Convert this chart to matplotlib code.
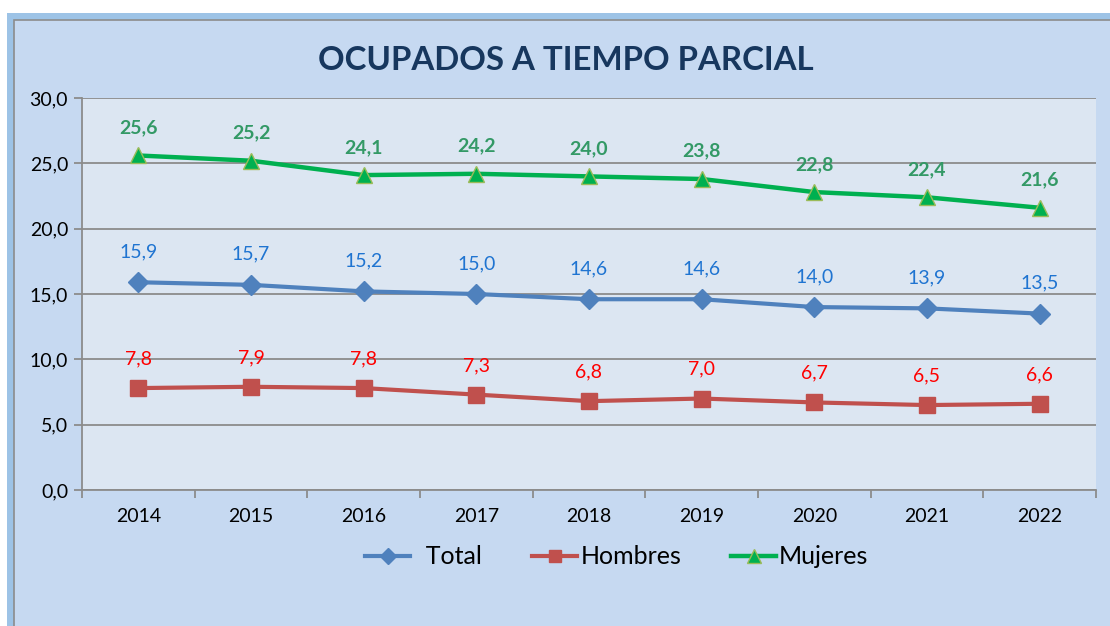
import matplotlib.pyplot as plt
from matplotlib.patches import Rectangle
from matplotlib.ticker import FixedLocator, FuncFormatter

years = ["2014", "2015", "2016", "2017", "2018", "2019", "2020", "2021", "2022"]
total = [15.9, 15.7, 15.2, 15.0, 14.6, 14.6, 14.0, 13.9, 13.5]
hombres = [7.8, 7.9, 7.8, 7.3, 6.8, 7.0, 6.7, 6.5, 6.6]
mujeres = [25.6, 25.2, 24.1, 24.2, 24.0, 23.8, 22.8, 22.4, 21.6]

plt.rcParams["font.family"] = ["Lato", "DejaVu Sans"]

fig = plt.figure(figsize=(11.1, 6.26), dpi=100)
fig.patch.set_facecolor("white")

# outer chart frame
fig.patches.append(Rectangle((7 / 1110, 0), 1.0, 1 - 13 / 626,
                             transform=fig.transFigure, facecolor="#9DC3E6",
                             edgecolor="none", zorder=-10))
fig.patches.append(Rectangle((14 / 1110, -0.01), 1.0, 1 - 20 / 626 + 0.01,
                             transform=fig.transFigure, facecolor="#C6D9F1",
                             edgecolor="#8C8C8C", linewidth=1.2, zorder=-9))

ax = fig.add_axes([82 / 1110, 1 - 490 / 626, 1014 / 1110, 392 / 626])
ax.set_zorder(5)
ax.set_facecolor("#DCE6F2")

x = list(range(len(years)))

ax.plot(x, total, color="#4F81BD", linewidth=3, marker="D", markersize=10,
        markerfacecolor="#4F81BD", markeredgecolor="#4F81BD", label="  Total",
        zorder=3)
ax.plot(x, hombres, color="#C0504D", linewidth=3, marker="s", markersize=11,
        markerfacecolor="#C0504D", markeredgecolor="#C0504D", label="Hombres",
        zorder=3)
ax.plot(x, mujeres, color="#00B050", linewidth=3.2, marker="^", markersize=12,
        markerfacecolor="#00B050", markeredgecolor="#9BBB59", label="Mujeres",
        zorder=3)

def fmt(v):
    return f"{v:.1f}".replace(".", ",")

for xi, v in zip(x, total):
    ax.annotate(fmt(v), (xi, v), xytext=(0, 22), textcoords="offset points",
                ha="center", va="center", fontsize=14, color="#1F74D1")
for xi, v in zip(x, hombres):
    ax.annotate(fmt(v), (xi, v), xytext=(0, 21), textcoords="offset points",
                ha="center", va="center", fontsize=14, color="#FF0000")
for xi, v in zip(x, mujeres):
    ax.annotate(fmt(v), (xi, v), xytext=(0, 20), textcoords="offset points",
                ha="center", va="center", fontsize=14, fontweight="bold",
                color="#339966")

ax.set_xlim(-0.5, len(years) - 0.5)
ax.set_ylim(0, 30)
ax.set_yticks([0, 5, 10, 15, 20, 25, 30])
ax.yaxis.set_major_formatter(FuncFormatter(lambda v, p: fmt(v)))
ax.yaxis.grid(True, color="#8C8C8C", linewidth=1.3)
ax.set_axisbelow(True)

ax.set_xticks(x)
ax.set_xticklabels(years)
ax.xaxis.set_minor_locator(FixedLocator([i - 0.5 for i in range(len(years) + 1)]))
ax.tick_params(axis="x", which="major", length=0, pad=13, labelsize=14)
ax.tick_params(axis="x", which="minor", length=6, width=1.3, color="#8C8C8C")
ax.tick_params(axis="y", length=6, width=1.3, color="#8C8C8C", labelsize=14,
               pad=4)

for side in ["top", "right"]:
    ax.spines[side].set_visible(False)
for side in ["left", "bottom"]:
    ax.spines[side].set_color("#8C8C8C")
    ax.spines[side].set_linewidth(1.3)

fig.text(566 / 1110, 1 - 60 / 626, "OCUPADOS A TIEMPO PARCIAL",
         ha="center", va="center", fontsize=23.8, fontweight="bold",
         color="#17375E")

fig.legend(loc="center", bbox_to_anchor=(617 / 1110, 1 - 557 / 626), ncol=3,
           frameon=False, fontsize=18, handlelength=1.8, handletextpad=0.12,
           columnspacing=2.0, markerscale=0.85)

fig.savefig("out.png", dpi=100, facecolor=fig.get_facecolor())
